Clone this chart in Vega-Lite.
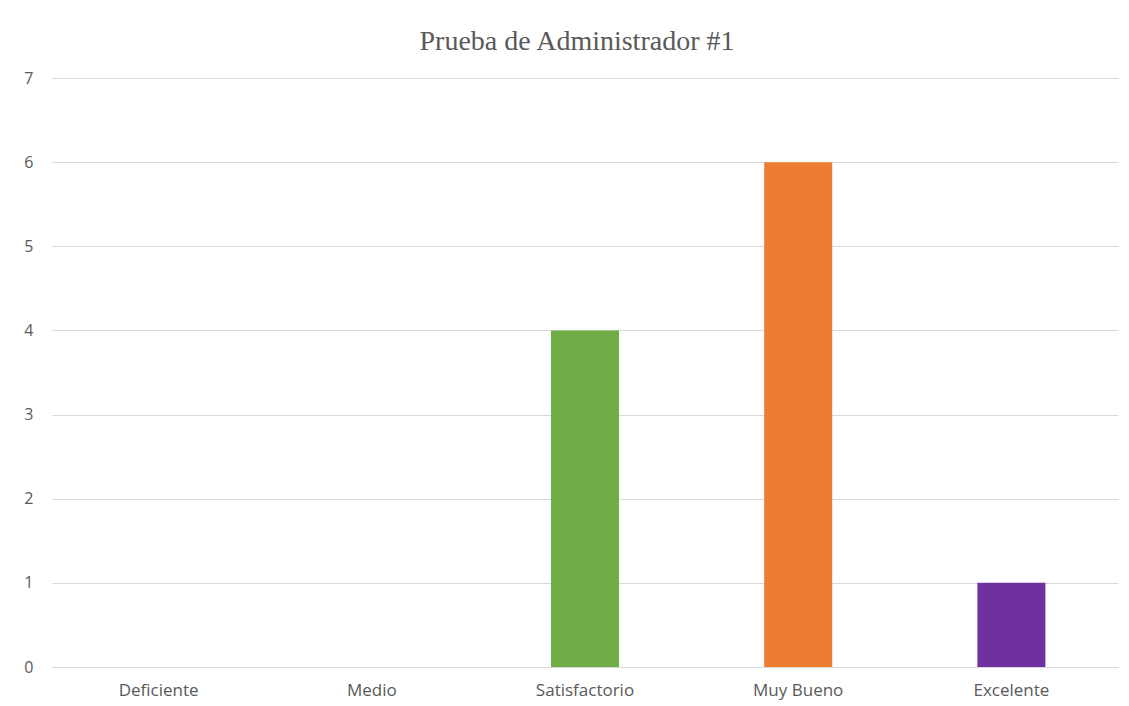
{
  "$schema": "https://vega.github.io/schema/vega-lite/v6.json",
  "width": 1066,
  "height": 589,
  "autosize": {"type": "none"},
  "padding": {"left": 52, "top": 78, "right": 11, "bottom": 39},
  "background": "white",
  "title": {
    "text": "Prueba de Administrador #1",
    "font": "Liberation Serif",
    "fontSize": 28,
    "fontWeight": "normal",
    "color": "#595959",
    "anchor": "middle",
    "offset": 14,
    "dx": -8
  },
  "data": {
    "values": [
      {"categoria": "Deficiente", "valor": 0},
      {"categoria": "Medio", "valor": 0},
      {"categoria": "Satisfactorio", "valor": 4},
      {"categoria": "Muy Bueno", "valor": 6},
      {"categoria": "Excelente", "valor": 1}
    ]
  },
  "mark": {"type": "bar"},
  "encoding": {
    "x": {
      "field": "categoria",
      "type": "nominal",
      "sort": null,
      "scale": {"paddingInner": 0.681, "paddingOuter": 0.3405},
      "axis": {
        "title": null,
        "labelAngle": 0,
        "ticks": false,
        "domain": true,
        "domainColor": "#D9D9D9",
        "labelFont": "Open Sans",
        "labelFontSize": 17,
        "labelColor": "#595959",
        "labelPadding": 15
      }
    },
    "y": {
      "field": "valor",
      "type": "quantitative",
      "scale": {"domain": [0, 7], "nice": false},
      "axis": {
        "title": null,
        "values": [0, 1, 2, 3, 4, 5, 6, 7],
        "labelOverlap": false,
        "ticks": false,
        "domain": false,
        "grid": true,
        "gridColor": "#D9D9D9",
        "gridWidth": 1,
        "labelFont": "Open Sans",
        "labelFontSize": 16,
        "labelColor": "#595959",
        "labelPadding": 19
      }
    },
    "color": {
      "field": "categoria",
      "type": "nominal",
      "legend": null,
      "scale": {
        "domain": ["Deficiente", "Medio", "Satisfactorio", "Muy Bueno", "Excelente"],
        "range": ["#4472C4", "#A5A5A5", "#70AD47", "#ED7D31", "#7030A0"]
      }
    }
  },
  "config": {"view": {"stroke": null}}
}
